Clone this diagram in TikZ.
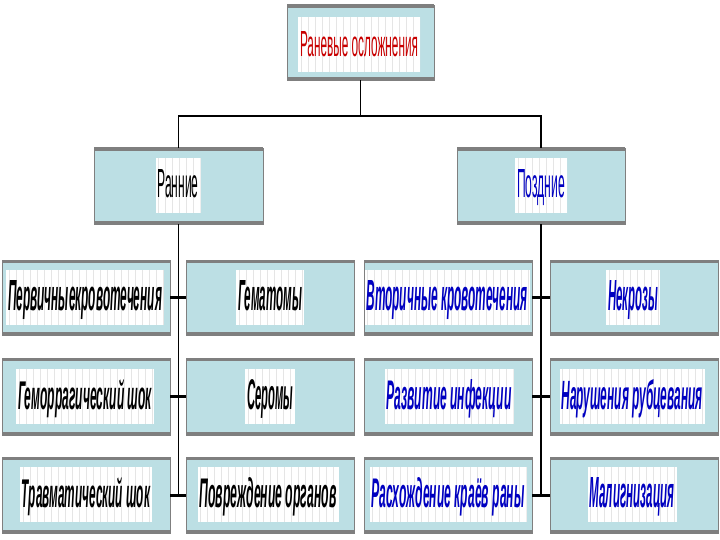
\documentclass[tikz,border=0pt]{standalone}
\usepackage{fontspec}
\setmainfont{Liberation Sans}
\usepackage{graphicx}
\definecolor{boxfill}{HTML}{BCDFE4}
\definecolor{boxedge}{HTML}{7F7F7F}
\definecolor{txtblue}{HTML}{0000C0}
\definecolor{txtred}{HTML}{C80000}
\newcommand\sqz[3]{\resizebox{#1pt}{#2pt}{#3}}
\tikzset{
  box/.style={draw=boxedge, line width=0.8pt, fill=boxfill, inner sep=0pt,
    path picture={\draw[boxedge, line width=6pt]
      (path picture bounding box.north west) -- (path picture bounding box.north east)
      (path picture bounding box.south west) -- (path picture bounding box.south east);}},
  lbl/.style={fill=white, anchor=base, inner xsep=2pt, inner ysep=0pt,
    text height=40pt, text depth=15pt, font=\fontsize{30}{30}\selectfont,
    path picture={\foreach \i in {3,10,...,220}{
      \draw[black!10, line width=0.5pt]
        ([xshift=\i pt]path picture bounding box.south west) --
        ([xshift=\i pt]path picture bounding box.north west);}}},
  rowlbl/.style={lbl, font=\fontsize{30}{30}\selectfont\bfseries\itshape},
  conn/.style={draw=black, line width=1.4pt},
  pair/.style={draw=black, line width=3pt}
}
\begin{document}
\begin{tikzpicture}[x=1pt,y=-1pt]
\useasboundingbox[fill=white] (0,0) rectangle (720,540);
% boxes
\node[box, minimum width=147pt, minimum height=75pt] (title) at (360.5,42.5) {};
\node[box, minimum width=169pt, minimum height=76pt] (early) at (178.5,186) {};
\node[box, minimum width=168pt, minimum height=76pt] (late) at (541,186) {};
\foreach \n/\x in {a/86,b/270,c/448,d/634}{
  \node[box, minimum width=168pt, minimum height=75pt] (\n1) at (\x,297.5) {};
  \node[box, minimum width=168pt, minimum height=77pt] (\n2) at (\x,396.5) {};
  \node[box, minimum width=168pt, minimum height=76pt] (\n3) at (\x,495) {};
}
% connectors
\coordinate (split) at (360.5,116);
\draw[conn] (title.south) -- (split);
\draw[conn] (split) -| (early.north);
\draw[conn] (split) -| (late.north);
\coordinate (espine) at (178.5,495);
\coordinate (lspine) at (541,495);
\draw[conn] (early.south) -- (espine);
\draw[conn] (late.south) -- (lspine);
\foreach \r in {1,2,3}{
  \draw[pair] (a\r.east) -- (b\r.west);
  \draw[pair] (c\r.east) -- (d\r.west);
}
% labels
\node[lbl, text=txtred] at (359,57) {\sqz{118}{25}{Раневые осложнения}};
\node[lbl, text=black] at (178,198) {\sqz{41}{28}{Ранние}};
\node[lbl, text=txtblue] at (541,198) {\sqz{48}{28}{Поздние}};
\node[rowlbl, text=black] at (85,310) {\sqz{154}{30}{Первичныекровотечения}};
\node[rowlbl, text=black] at (270,310) {\sqz{64}{30}{Гематомы}};
\node[rowlbl, text=txtblue] at (447,310) {\sqz{161}{30}{Вторичные кровотечения}};
\node[rowlbl, text=txtblue] at (633,310) {\sqz{50}{30}{Некрозы}};
\node[rowlbl, text=black] at (85,409) {\sqz{134}{30}{Геморрагический шок}};
\node[rowlbl, text=black] at (270,409) {\sqz{46}{30}{Серомы}};
\node[rowlbl, text=txtblue] at (449,409) {\sqz{125}{30}{Развитие инфекции}};
\node[rowlbl, text=txtblue] at (632,409) {\sqz{141}{30}{Нарушения рубцевания}};
\node[rowlbl, text=black] at (86,507) {\sqz{128}{30}{Травматический шок}};
\node[rowlbl, text=black] at (268,507) {\sqz{137}{30}{Повреждение органов}};
\node[rowlbl, text=txtblue] at (448,507) {\sqz{153}{30}{Расхождение краёв раны}};
\node[rowlbl, text=txtblue] at (632,507) {\sqz{85}{30}{Малигнизация}};
\end{tikzpicture}
\end{document}
